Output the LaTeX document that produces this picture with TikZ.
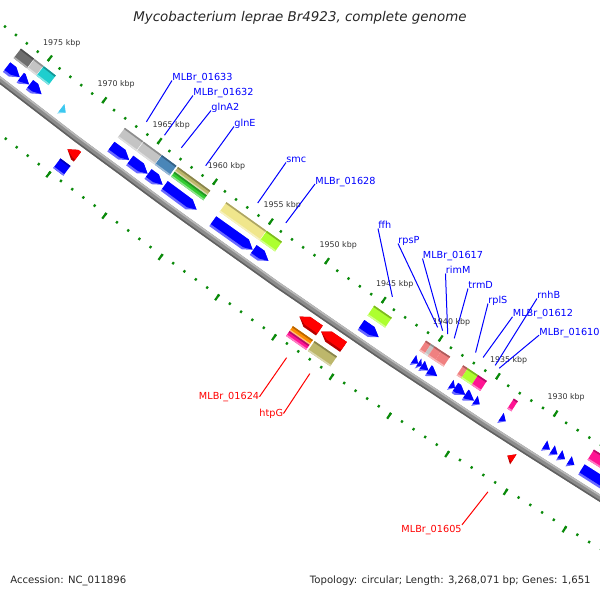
\documentclass[tikz,border=0pt]{standalone}
\usepackage{fontspec}
\setmainfont{DejaVu Sans}

\definecolor{tickgreen}{HTML}{0A8A0A}
\definecolor{cblue}{HTML}{0000FF}
\definecolor{cbluelt}{HTML}{6A6AFF}
\definecolor{cred}{HTML}{FF0000}
\definecolor{creddk}{HTML}{B80000}
\definecolor{ctrna}{HTML}{3CC8F0}
\definecolor{cdgray}{HTML}{6E6E6E}
\definecolor{clgray}{HTML}{C4C4C4}
\definecolor{ccyan}{HTML}{1ECECE}
\definecolor{csteel}{HTML}{4A86B8}
\definecolor{ckhaki}{HTML}{BDB76B}
\definecolor{cgreen}{HTML}{32CD32}
\definecolor{cpkhaki}{HTML}{F0E68C}
\definecolor{cgyellow}{HTML}{ADFF2F}
\definecolor{csalmon}{HTML}{F08080}
\definecolor{cpink}{HTML}{FF1493}
\definecolor{corange}{HTML}{FF8C00}
\definecolor{bbmid}{HTML}{8C8C8C}
\definecolor{bblight}{HTML}{B8B8B8}
\definecolor{bbdark}{HTML}{606060}
\definecolor{kbptext}{HTML}{333333}

% angle of a position (kbp) and radius of a distance from the backbone
\newcommand\mapang[1]{124.8056+(#1-1950)*0.1101567}
\newcommand\maprad[1]{7194-(#1)}

% COG box: k1, k2, d1, d2, colour
\newcommand\cogbox[5]{%
  \fill[#5] ({\mapang{#1}}:{\maprad{#3}}) -- ({\mapang{#2}}:{\maprad{#3}})
    -- ({\mapang{#2}}:{\maprad{#4}}) -- ({\mapang{#1}}:{\maprad{#4}}) -- cycle;
  \fill[#5!72!black] ({\mapang{#1}}:{\maprad{#4-1.6}}) -- ({\mapang{#2}}:{\maprad{#4-1.6}})
    -- ({\mapang{#2}}:{\maprad{#4}}) -- ({\mapang{#1}}:{\maprad{#4}}) -- cycle;
  \fill[#5!55!white] ({\mapang{#1}}:{\maprad{#3}}) -- ({\mapang{#2}}:{\maprad{#3}})
    -- ({\mapang{#2}}:{\maprad{#3+1.6}}) -- ({\mapang{#1}}:{\maprad{#3+1.6}}) -- cycle;
}
% CDS inside the backbone, tip at k1: k1, k2, colour, edge colour
\newcommand\revcds[4]{%
  \pgfmathsetmacro\headk{min(#1+0.65,#2)}
  \fill[#4] ({\mapang{#2}}:{\maprad{8}}) -- ({\mapang{\headk}}:{\maprad{8}})
    -- ({\mapang{#1}}:{\maprad{14}}) -- ({\mapang{\headk}}:{\maprad{20}})
    -- ({\mapang{#2}}:{\maprad{20}}) -- cycle;
  \fill[#3] ({\mapang{#2}}:{\maprad{10.5}}) -- ({\mapang{\headk}}:{\maprad{10.5}})
    -- ({\mapang{#1}}:{\maprad{14}}) -- ({\mapang{\headk}}:{\maprad{20}})
    -- ({\mapang{#2}}:{\maprad{20}}) -- cycle;
}
% CDS outside the backbone, tip at k2
\newcommand\fwdcds[4]{%
  \pgfmathsetmacro\headk{max(#2-0.65,#1)}
  \fill[#4] ({\mapang{#1}}:{\maprad{-8}}) -- ({\mapang{\headk}}:{\maprad{-8}})
    -- ({\mapang{#2}}:{\maprad{-14}}) -- ({\mapang{\headk}}:{\maprad{-20}})
    -- ({\mapang{#1}}:{\maprad{-20}}) -- cycle;
  \fill[#3] ({\mapang{#1}}:{\maprad{-8}}) -- ({\mapang{\headk}}:{\maprad{-8}})
    -- ({\mapang{#2}}:{\maprad{-14}}) -- ({\mapang{\headk}}:{\maprad{-17.5}})
    -- ({\mapang{#1}}:{\maprad{-17.5}}) -- cycle;
}

\tikzset{ rulertick/.style = { draw       = tickgreen
                             , line width = 1.1pt
                             },
          kbp/.style = { text      = kbptext
                       , inner sep = 0pt
                       , font      = \fontsize{3.95}{5}\selectfont
                       },
          genein/.style = { text      = cblue
                          , inner sep = 0pt
                          , font      = \fontsize{4.85}{6}\selectfont
                          },
          geneout/.style = { text      = cred
                           , inner sep = 0pt
                           , font      = \fontsize{4.85}{6}\selectfont
                           },
          leaderin/.style  = { draw = cblue, line width = 0.5pt },
          leaderout/.style = { draw = cred,  line width = 0.5pt },
          mapinfo/.style = { text      = black!85
                           , inner sep = 0pt
                           , font      = \fontsize{5.05}{6}\selectfont
                           }
        }

\begin{document}
\begin{tikzpicture}[x=0.5pt,y=-0.5pt]
  \useasboundingbox (0,0) rectangle (600,600);
  \clip (0,0) rectangle (600,600);

  \begin{scope}[shift={(4406.1,-5606.6)}]
    % rulers
    \foreach \k in {1920,...,1984} {
      \draw[rulertick] ({\mapang{\k}}:{\maprad{44}}) -- ({\mapang{\k}}:{\maprad{46.5}});
      \draw[rulertick] ({\mapang{\k}}:{\maprad{-42}}) -- ({\mapang{\k}}:{\maprad{-44.5}});
    }
    \foreach \k in {1920,1925,...,1980} {
      \draw[rulertick] ({\mapang{\k}}:{\maprad{44}}) -- ({\mapang{\k}}:{\maprad{51}});
      \draw[rulertick] ({\mapang{\k}}:{\maprad{-42}}) -- ({\mapang{\k}}:{\maprad{-49}});
    }
    \foreach \k in {1930,1935,...,1975}
      \node[kbp] (kbp\k) at ({\mapang{\k}}:{\maprad{67}}) {\k\ kbp};

    % backbone
    \draw[bbmid, line width=3.25pt] plot[domain=1920:1982, samples=32] ({\mapang{\x}}:{\maprad{-0.25}});
    \draw[bblight, line width=0.85pt] plot[domain=1920:1982, samples=32] ({\mapang{\x}}:{\maprad{2.1}});
    \draw[bbdark, line width=0.75pt] plot[domain=1920:1982, samples=32] ({\mapang{\x}}:{\maprad{-2.75}});

    % inner strand
    \revcds{1975.9}{1977.1}{cblue}{cbluelt}
    \revcds{1975.05}{1975.85}{cblue}{cbluelt}
    \revcds{1973.9}{1975.0}{cblue}{cbluelt}
    \revcds{1971.7}{1972.15}{ctrna}{ctrna!60!white}
    \revcds{1965.95}{1967.6}{cblue}{cbluelt}
    \revcds{1964.3}{1965.9}{cblue}{cbluelt}
    \revcds{1962.95}{1964.25}{cblue}{cbluelt}
    \revcds{1959.9}{1962.8}{cblue}{cbluelt}
    \revcds{1954.9}{1958.45}{cblue}{cbluelt}
    \revcds{1953.5}{1954.85}{cblue}{cbluelt}
    \revcds{1943.8}{1945.35}{cblue}{cbluelt}
    \revcds{1940.35}{1940.8}{cblue}{cbluelt}
    \revcds{1940.05}{1940.35}{cblue}{cbluelt}
    \revcds{1939.45}{1940.05}{cblue}{cbluelt}
    \revcds{1938.7}{1939.45}{cblue}{cbluelt}
    \revcds{1937.15}{1937.55}{cblue}{cbluelt}
    \revcds{1936.25}{1937.15}{cblue}{cbluelt}
    \revcds{1935.5}{1936.25}{cblue}{cbluelt}
    \revcds{1935.0}{1935.45}{cblue}{cbluelt}
    \revcds{1932.75}{1933.2}{cblue}{cbluelt}
    \revcds{1928.95}{1929.45}{cblue}{cbluelt}
    \revcds{1928.3}{1928.8}{cblue}{cbluelt}
    \revcds{1927.65}{1928.15}{cblue}{cbluelt}
    \revcds{1926.85}{1927.35}{cblue}{cbluelt}
    \revcds{1923.5}{1926.25}{cblue}{cbluelt}

    \cogbox{1975.9}{1977.1}{25.5}{37.5}{cdgray}
    \cogbox{1975.05}{1975.85}{25.5}{37.5}{clgray}
    \cogbox{1973.9}{1975.0}{25.5}{37.5}{ccyan}
    \cogbox{1965.95}{1967.6}{25.5}{37.5}{clgray}
    \cogbox{1964.3}{1965.9}{25.5}{37.5}{clgray}
    \cogbox{1962.95}{1964.25}{25.5}{37.5}{csteel}
    \cogbox{1959.9}{1962.8}{31.5}{37.5}{ckhaki}
    \cogbox{1959.9}{1962.8}{25.5}{31.5}{cgreen}
    \cogbox{1954.9}{1958.45}{25.5}{37.5}{cpkhaki}
    \cogbox{1953.5}{1954.85}{25.5}{37.5}{cgyellow}
    \cogbox{1943.8}{1945.35}{25.5}{37.5}{cgyellow}
    \cogbox{1940.35}{1940.8}{25.5}{37.5}{csalmon}
    \cogbox{1940.05}{1940.35}{25.5}{37.5}{clgray}
    \cogbox{1939.45}{1940.05}{25.5}{37.5}{csalmon}
    \cogbox{1938.7}{1939.45}{25.5}{37.5}{csalmon}
    \cogbox{1937.15}{1937.55}{25.5}{37.5}{csalmon}
    \cogbox{1936.25}{1937.15}{25.5}{37.5}{cgyellow}
    \cogbox{1935.5}{1936.25}{25.5}{37.5}{cpink}
    \cogbox{1932.8}{1933.15}{25.5}{37.5}{cpink}
    \cogbox{1923.5}{1926.25}{25.5}{37.5}{cpink}

    % outer strand
    \fwdcds{1969.1}{1970.0}{cred}{creddk}
    \fwdcds{1947.6}{1949.35}{cred}{creddk}
    \fwdcds{1945.5}{1947.45}{cred}{creddk}
    \fwdcds{1930.8}{1931.3}{cred}{creddk}

    \cogbox{1969.1}{1970.0}{-37.5}{-25.5}{cblue}
    \cogbox{1947.6}{1949.35}{-31.5}{-25.5}{corange}
    \cogbox{1947.6}{1949.35}{-37.5}{-31.5}{cpink}
    \cogbox{1945.5}{1947.45}{-37.5}{-25.5}{ckhaki}

    % leader ends
    \coordinate (g01633) at ({\mapang{1966.6}}:{\maprad{55}});
    \coordinate (g01632) at ({\mapang{1964.97}}:{\maprad{55}});
    \coordinate (gglnA2) at ({\mapang{1963.43}}:{\maprad{55}});
    \coordinate (gglnE)  at ({\mapang{1961.24}}:{\maprad{55}});
    \coordinate (gsmc)   at ({\mapang{1956.57}}:{\maprad{55}});
    \coordinate (g01628) at ({\mapang{1954.06}}:{\maprad{55}});
    \coordinate (gffh)   at ({\mapang{1944.61}}:{\maprad{55}});
    \coordinate (grpsP)  at ({\mapang{1940.63}}:{\maprad{55}});
    \coordinate (g01617) at ({\mapang{1940.2}}:{\maprad{55}});
    \coordinate (grimM)  at ({\mapang{1939.75}}:{\maprad{55}});
    \coordinate (gtrmD)  at ({\mapang{1939.18}}:{\maprad{55}});
    \coordinate (grplS)  at ({\mapang{1937.31}}:{\maprad{55}});
    \coordinate (g01612) at ({\mapang{1936.66}}:{\maprad{55}});
    \coordinate (grnhB)  at ({\mapang{1935.6}}:{\maprad{55}});
    \coordinate (g01610) at ({\mapang{1935.24}}:{\maprad{55}});
    \coordinate (g01624) at ({\mapang{1948.43}}:{\maprad{-55}});
    \coordinate (ghtpG)  at ({\mapang{1946.41}}:{\maprad{-55}});
    \coordinate (g01605) at ({\mapang{1931.07}}:{\maprad{-55}});
  \end{scope}

  % labels
  \node[genein, anchor=base west] (l01633) at (172,80.5)  {MLBr\_01633};
  \node[genein, anchor=base west] (l01632) at (193,95.5)  {MLBr\_01632};
  \node[genein, anchor=base west] (lglnA2) at (211,110.5) {glnA2};
  \node[genein, anchor=base west] (lglnE)  at (234,126.5) {glnE};
  \node[genein, anchor=base west] (lsmc)   at (286,162.5) {smc};
  \node[genein, anchor=base west] (l01628) at (315,184)   {MLBr\_01628};
  \node[genein, anchor=base west] (lffh)   at (378,228.5) {ffh};
  \node[genein, anchor=base west] (lrpsP)  at (398,243.5) {rpsP};
  \node[genein, anchor=base west] (l01617) at (422.5,258.5) {MLBr\_01617};
  \node[genein, anchor=base west] (lrimM)  at (445.5,273.5) {rimM};
  \node[genein, anchor=base west] (ltrmD)  at (468,288.5) {trmD};
  \node[genein, anchor=base west] (lrplS)  at (488,303.5) {rplS};
  \node[genein, anchor=base west] (lrnhB)  at (537,298.5) {rnhB};
  \node[genein, anchor=base west] (l01612) at (512.5,316.8) {MLBr\_01612};
  \node[genein, anchor=base west] (l01610) at (539,335.2) {MLBr\_01610};
  \node[geneout, anchor=east] (l01624) at (259.5,396.7) {MLBr\_01624};
  \node[geneout, anchor=east] (lhtpG)  at (283.5,413.5) {htpG};
  \node[geneout, anchor=east] (l01605) at (462,530)     {MLBr\_01605};

  \draw[leaderin] (l01633.base west) -- (g01633);
  \draw[leaderin] (l01632.base west) -- (g01632);
  \draw[leaderin] (lglnA2.base west) -- (gglnA2);
  \draw[leaderin] (lglnE.base west)  -- (gglnE);
  \draw[leaderin] (lsmc.base west)   -- (gsmc);
  \draw[leaderin] (l01628.base west) -- (g01628);
  \draw[leaderin] (lffh.base west)   -- (gffh);
  \draw[leaderin] (lrpsP.base west)  -- (grpsP);
  \draw[leaderin] (l01617.base west) -- (g01617);
  \draw[leaderin] (lrimM.base west)  -- (grimM);
  \draw[leaderin] (ltrmD.base west)  -- (gtrmD);
  \draw[leaderin] (lrplS.base west)  -- (grplS);
  \draw[leaderin] (lrnhB.base west)  -- (grnhB);
  \draw[leaderin] (l01612.base west) -- (g01612);
  \draw[leaderin] (l01610.base west) -- (g01610);
  \draw[leaderout] (l01624.east) -- (g01624);
  \draw[leaderout] (lhtpG.east)  -- (ghtpG);
  \draw[leaderout] (l01605.north east) -- (g01605);

  \node[mapinfo, font=\fontsize{6.7}{8}\selectfont\itshape] (title) at (300,18)
    {Mycobacterium leprae Br4923, complete genome};
  \node[mapinfo, anchor=west] (access) at (10,581) {Accession: NC\_011896};
  \node[mapinfo, anchor=east] (topo) at (591,581)
    {Topology: circular; Length: 3,268,071 bp; Genes: 1,651};
\end{tikzpicture}
\end{document}
